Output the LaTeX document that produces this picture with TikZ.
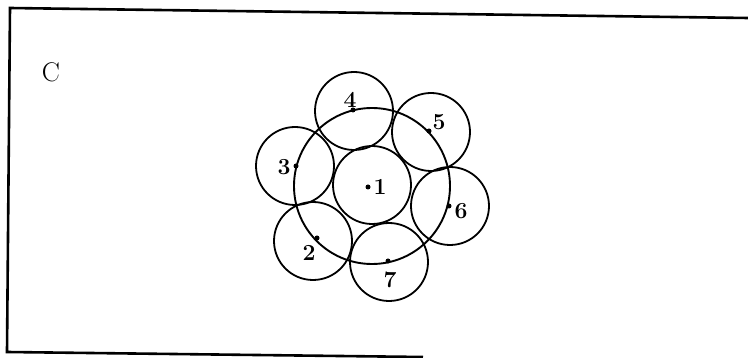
\documentclass[tikz,border=0pt]{standalone}
\usepackage{tikz}

\begin{document}
\begin{tikzpicture}[x=1pt, y=-1pt,
  ring/.style={draw, circle, line width=1.8pt, minimum size=78pt, inner sep=0pt},
  bigring/.style={draw, circle, line width=1.9pt, minimum size=156pt, inner sep=0pt},
  dot/.style={fill, circle, inner sep=0pt, minimum size=5pt},
  num/.style={font=\fontsize{23}{23}\selectfont\bfseries, inner sep=0pt}
]
\useasboundingbox (0,0) rectangle (748,358);

% frame
\draw[line width=2.6pt] (748,18) -- (10,8) -- (7,352) -- (423,357);
\node[font=\fontsize{27}{27}\selectfont, inner sep=0pt] (title) at (51,72) {C};

% circles
\node[bigring] (big) at (372,186) {};
\node[ring] (c1) at (372,185) {};
\node[ring] (c2) at (313,241) {};
\node[ring] (c3) at (295,166) {};
\node[ring] (c4) at (354,111) {};
\node[ring] (c5) at (431,132) {};
\node[ring] (c6) at (450,206) {};
\node[ring] (c7) at (389,262) {};

% centre dots
\node[dot] (d1) at (368,187) {};
\node[dot] (d2) at (317,238) {};
\node[dot] (d3) at (296,166) {};
\node[dot] (d4) at (353,110) {};
\node[dot] (d5) at (429,131) {};
\node[dot] (d6) at (449,206) {};
\node[dot] (d7) at (388,261) {};

% numbers
\node[num] (n1) at (380,187) {1};
\node[num] (n2) at (309,253) {2};
\node[num] (n3) at (284,167) {3};
\node[num] (n4) at (350,100) {4};
\node[num] (n5) at (439,122) {5};
\node[num] (n6) at (461,211) {6};
\node[num] (n7) at (390,280) {7};
\end{tikzpicture}
\end{document}
